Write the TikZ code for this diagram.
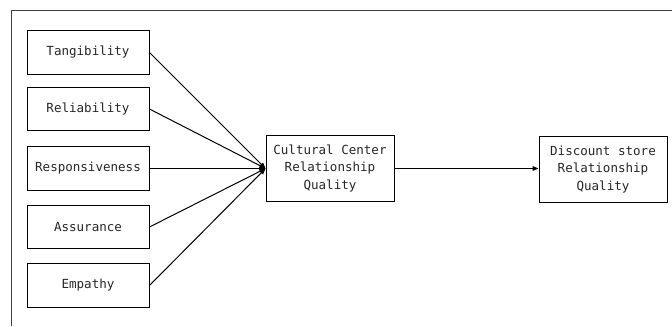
\documentclass[tikz,border=0pt]{standalone}
\usepackage{fontspec}
\setmainfont{DejaVu Sans Mono}
\usepackage{tikz}
\usetikzlibrary{shapes,arrows.meta,backgrounds}
\usetikzlibrary{positioning, shapes.geometric}
\tikzset{
  sqdim/.style={ draw, line width=0.7pt, minimum width=91.5pt, minimum height=32.5pt, font=\fontsize{9.4}{13}\selectfont, text=black!85 }
}
\tikzset{
  sqrel/.style={ draw, line width=0.7pt, minimum width=96pt, minimum height=49pt, align=center, font=\fontsize{9.4}{13}\selectfont, text=black!85 }
}
\tikzset{
  lnk/.style={ line width=0.75pt, -{Triangle[length=4.5pt,width=3.5pt]} }
}

\begin{document}
\begin{tikzpicture}[x=0.75pt, y=-0.75pt]
      \useasboundingbox (0,0) rectangle (672,326);
      \draw[line width=0.9pt, black!75] (672,10.5) -- (11.5,10.5) -- (11.5,326);

      \node[sqdim] (dim1) at (88, 52.5) {Tangibility};
      \node[sqdim] (dim2) at (88, 109) {Reliability};
      \node[sqdim] (dim3) at (88, 168.5) {Responsiveness};
      \node[sqdim] (dim4) at (88, 227) {Assurance};
      \node[sqdim] (dim5) at (88, 285.5) {Empathy};

      \node[sqrel] (cc) at (330, 168.5) {Cultural Center\\Relationship\\Quality};
      \node[sqrel] (ds) at (603, 169.5) {Discount store\\Relationship\\Quality};

      \draw[lnk] (dim1.east) -- (cc.west);
      \draw[lnk] (dim2.east) -- (cc.west);
      \draw[lnk] (dim3.east) -- (cc.west);
      \draw[lnk] (dim4.east) -- (cc.west);
      \draw[lnk] (dim5.east) -- (cc.west);
      \draw[lnk] (cc.east) -- (cc.east -| ds.west);
    \end{tikzpicture}
\end{document}
